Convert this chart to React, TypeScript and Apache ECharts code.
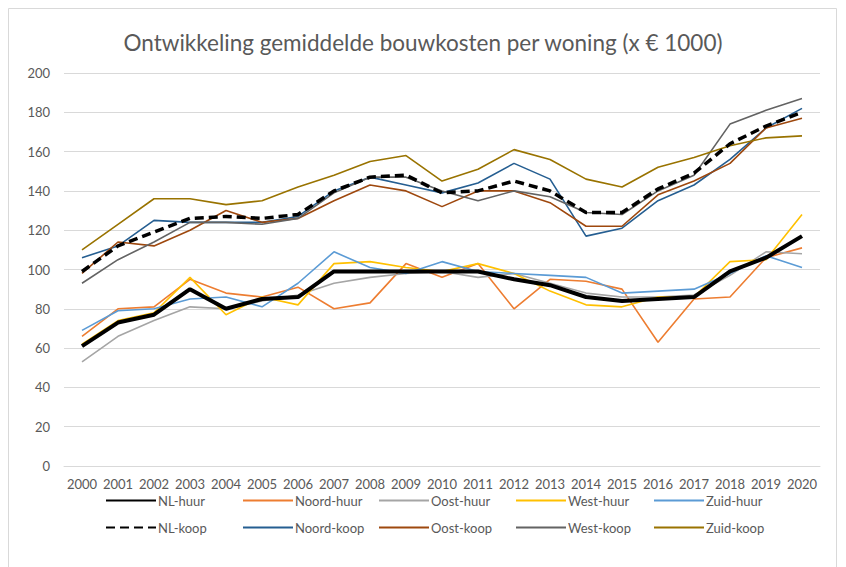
import React, { useEffect, useRef } from "react";
import * as echarts from "echarts";

const years = ["2000","2001","2002","2003","2004","2005","2006","2007","2008","2009","2010","2011","2012","2013","2014","2015","2016","2017","2018","2019","2020"];

const nlHuur = [61, 73, 77, 90, 80, 85, 86, 99, 99, 99, 99, 99, 95, 92, 86, 84, 85, 86, 99, 106, 117];
const noordHuur = [66, 80, 81, 95, 88, 86, 91, 80, 83, 103, 96, 103, 80, 95, 94, 90, 63, 85, 86, 106, 111];
const oostHuur = [53, 66, 74, 81, 80, 84, 87, 93, 96, 98, 99, 96, 98, 93, 88, 86, 86, 87, 97, 109, 108];
const westHuur = [62, 74, 78, 96, 77, 86, 82, 103, 104, 101, 99, 103, 98, 89, 82, 81, 86, 86, 104, 105, 128];
const zuidHuur = [69, 79, 80, 85, 86, 81, 93, 109, 101, 98, 104, 99, 98, 97, 96, 88, 89, 90, 98, 107, 101];

const nlKoop = [99, 112, 119, 126, 127, 126, 128, 140, 147, 148, 139, 140, 145, 140, 129, 129, 141, 149, 164, 173, 180];
const noordKoop = [106, 112, 125, 124, 124, 124, 127, 140, 147, 143, 139, 144, 154, 146, 117, 121, 135, 143, 156, 172, 182];
const oostKoop = [98, 114, 112, 120, 130, 124, 126, 135, 143, 140, 132, 140, 140, 134, 122, 122, 138, 145, 154, 172, 177];
const westKoop = [93, 105, 114, 124, 124, 123, 126, 139, 147, 147, 140, 135, 140, 137, 129, 128, 140, 148, 174, 181, 187];
const zuidKoop = [110, 123, 136, 136, 133, 135, 142, 148, 155, 158, 145, 151, 161, 156, 146, 142, 152, 157, 163, 167, 168];

const legendColumns = [
  ["NL-huur", "NL-koop"],
  ["Noord-huur", "Noord-koop"],
  ["Oost-huur", "Oost-koop"],
  ["West-huur", "West-koop"],
  ["Zuid-huur", "Zuid-koop"],
];

const FONT = "Lato, 'Open Sans', sans-serif";
const TXT = "#595959";

export default function App() {
  const ref = useRef<HTMLDivElement>(null);
  useEffect(() => {
    if (!ref.current) return;
    const chart = echarts.init(ref.current, undefined, { renderer: "svg" });
    const thin = (name: string, data: number[], color: string) => ({
      name,
      type: "line",
      data,
      symbol: "none",
      showSymbol: false,
      lineStyle: { color, width: 1.6 },
      itemStyle: { color },
    });
    const colX = [100, 237, 373, 510, 648];
    chart.setOption({
      animation: false,
      textStyle: { fontFamily: FONT },
      title: {
        text: "Ontwikkeling gemiddelde bouwkosten per woning (x € 1000)",
        left: "center",
        top: 26,
        textStyle: { fontSize: 22.5, fontWeight: "normal", color: TXT, fontFamily: FONT },
      },
      graphic: [
        {
          type: "rect",
          shape: { x: 8.5, y: 8.5, width: 828, height: 570 },
          style: { fill: "none", stroke: "#d9d9d9", lineWidth: 1 },
          silent: true,
        },
      ],
      grid: { left: 64, right: 26, top: 73, bottom: 101, containLabel: false },
      xAxis: {
        type: "category",
        data: years,
        boundaryGap: true,
        axisLine: { show: true, lineStyle: { color: "#d9d9d9", width: 1 } },
        axisTick: { show: false },
        axisLabel: { interval: 0, color: TXT, fontSize: 13, margin: 11, fontFamily: FONT },
      },
      yAxis: {
        type: "value",
        min: 0,
        max: 200,
        interval: 20,
        axisLine: { show: false },
        axisTick: { show: false },
        axisLabel: { color: TXT, fontSize: 13, margin: 14, fontFamily: FONT },
        splitLine: { lineStyle: { color: "#d9d9d9", width: 1 } },
      },
      legend: legendColumns.map((col, i) => ({
        data: col,
        orient: "vertical",
        left: colX[i],
        top: 489,
        itemGap: 14,
        itemWidth: 50,
        itemHeight: 14,
        itemStyle: { opacity: 0 },
        textStyle: { color: TXT, fontSize: 13, fontFamily: FONT, padding: [0, 0, 0, -3] },
      })),
      series: [
        thin("Noord-huur", noordHuur, "#ED7D31"),
        thin("Oost-huur", oostHuur, "#A5A5A5"),
        thin("West-huur", westHuur, "#FFC000"),
        thin("Zuid-huur", zuidHuur, "#5B9BD5"),
        thin("Noord-koop", noordKoop, "#255E91"),
        thin("Oost-koop", oostKoop, "#9E480E"),
        thin("West-koop", westKoop, "#636363"),
        thin("Zuid-koop", zuidKoop, "#997300"),
        {
          name: "NL-huur",
          type: "line",
          data: nlHuur,
          symbol: "none",
          showSymbol: false,
          lineStyle: { color: "#000000", width: 4 },
          itemStyle: { color: "#000000" },
        },
        {
          name: "NL-koop",
          type: "line",
          data: nlKoop,
          symbol: "none",
          showSymbol: false,
          lineStyle: { color: "#000000", width: 3.5, type: [9, 5] },
          itemStyle: { color: "#000000" },
        },
      ],
    });
    return () => chart.dispose();
  }, []);
  return (
    <div
      ref={ref}
      style={{ position: "absolute", left: 0, top: 0, width: 846, height: 567, background: "#fff" }}
    />
  );
}
